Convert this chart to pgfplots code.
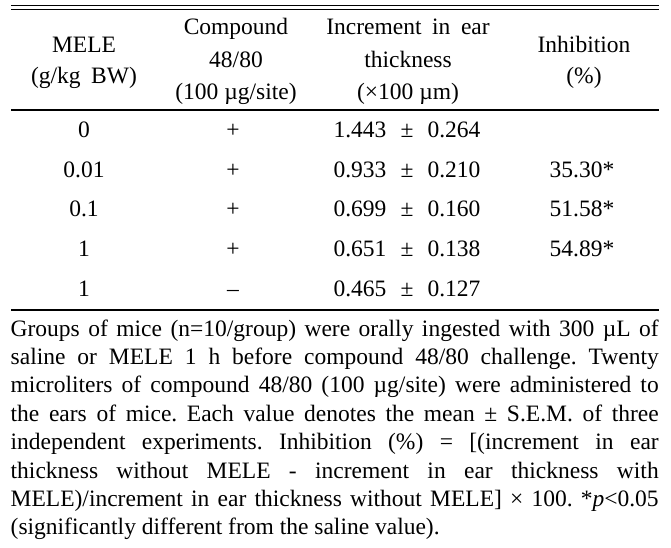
\documentclass[border=0pt]{standalone}
\usepackage{fontspec}
\setmainfont{Liberation Serif}
\usepackage{pgfplots}
\pgfplotsset{compat=1.18}
\newcommand{\pmsep}{\hspace{0.6em}±\hspace{0.6em}}
\newcommand{\fl}[1]{\makebox[648pt][s]{#1}}
\tikzset{c/.style={font=\fontsize{23.5}{28.8}\selectfont\frenchspacing,inner sep=0pt,anchor=base},
         l/.style={font=\fontsize{23.5}{28.8}\selectfont\frenchspacing,inner sep=0pt,anchor=base west}}
\begin{document}
\fontsize{23.5}{28.8}\selectfont\frenchspacing
\begin{tikzpicture}
\begin{axis}[width=671pt,height=547pt,scale only axis,
  xmin=0,xmax=671,ymin=0,ymax=547,y dir=reverse,
  hide axis,clip=false]
% invisible frame for the bounding box
\addplot[draw=none] coordinates {(0,0) (671,547)};
% rules
\addplot[black,line width=1.2pt] coordinates {(11,5.7) (659,5.7)};
\addplot[black,line width=1.2pt] coordinates {(11,9.4) (659,9.4)};
\addplot[black,line width=1.2pt] coordinates {(11,110) (659,110)};
\addplot[black,line width=1.2pt] coordinates {(11,310) (659,310)};
% header
\node[c] at (axis cs:84,52) {MELE};
\node[c] at (axis cs:84,83) {(g/kg\hspace{0.45em}BW)};
\node[c] at (axis cs:236,34) {Compound};
\node[c] at (axis cs:236,67) {48/80};
\node[c] at (axis cs:236,99) {(100 µg/site)};
\node[c] at (axis cs:408,34) {Increment\hspace{0.45em}in\hspace{0.45em}ear};
\node[c] at (axis cs:408,67) {thickness};
\node[c] at (axis cs:408,99) {(×100 µm)};
\node[c] at (axis cs:584,52) {Inhibition};
\node[c] at (axis cs:584,83) {(\%)};
% body rows
\node[c] at (axis cs:84,137.5) {0};
\node[c] at (axis cs:84,177.2) {0.01};
\node[c] at (axis cs:84,216.9) {0.1};
\node[c] at (axis cs:84,256.6) {1};
\node[c] at (axis cs:84,296.3) {1};
\node[c] at (axis cs:233,137.5) {+};
\node[c] at (axis cs:233,177.2) {+};
\node[c] at (axis cs:233,216.9) {+};
\node[c] at (axis cs:233,256.6) {+};
\node[c] at (axis cs:233,296.3) {–};
\node[c] at (axis cs:407,137.5) {1.443\pmsep0.264};
\node[c] at (axis cs:407,177.2) {0.933\pmsep0.210};
\node[c] at (axis cs:407,216.9) {0.699\pmsep0.160};
\node[c] at (axis cs:407,256.6) {0.651\pmsep0.138};
\node[c] at (axis cs:407,296.3) {0.465\pmsep0.127};
\node[c] at (axis cs:582,177.2) {35.30*};
\node[c] at (axis cs:582,216.9) {51.58*};
\node[c] at (axis cs:582,256.6) {54.89*};
% footnote
\node[l] at (axis cs:10.5,336.0) {\fl{Groups of mice (n=10/group) were orally ingested with 300 µL of}};
\node[l] at (axis cs:10.5,364.4) {\fl{saline or MELE 1 h before compound 48/80 challenge. Twenty}};
\node[l] at (axis cs:10.5,392.8) {\fl{microliters of compound 48/80 (100 µg/site) were administered to}};
\node[l] at (axis cs:10.5,421.2) {\fl{the ears of mice. Each value denotes the mean ± S.E.M. of three}};
\node[l] at (axis cs:10.5,449.6) {\fl{independent experiments. Inhibition (\%) = [(increment in ear}};
\node[l] at (axis cs:10.5,478.0) {\fl{thickness without MELE - increment in ear thickness with}};
\node[l] at (axis cs:10.5,506.4) {\fl{MELE)/increment in ear thickness without MELE] × 100. *\textit{p}<0.05}};
\node[l] at (axis cs:10.5,534.8) {(significantly different from the saline value).};
\end{axis}
\end{tikzpicture}
\end{document}
